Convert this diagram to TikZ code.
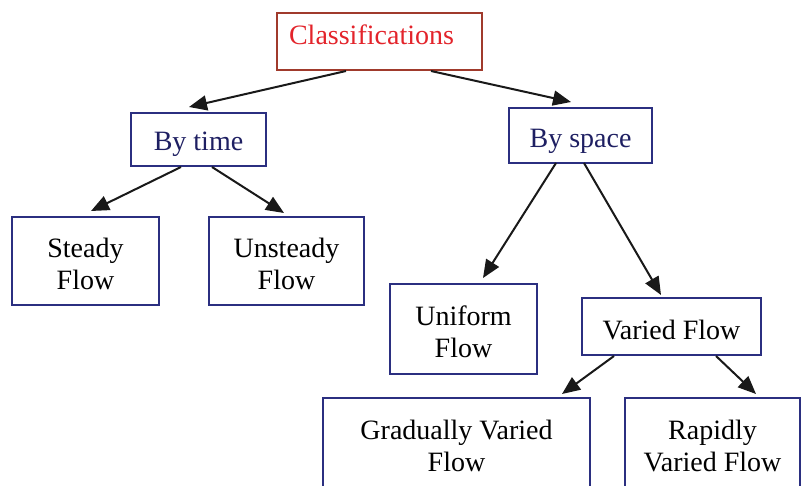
\documentclass[tikz,border=0pt]{standalone}
\usepackage{fontspec}
\setmainfont{Liberation Serif}
\usetikzlibrary{arrows.meta,calc}
\definecolor{navy}{HTML}{2B2F80}
\definecolor{navytext}{HTML}{1E1F62}
\definecolor{redtext}{HTML}{E3242B}
\definecolor{brownline}{HTML}{A03A2C}
\newcommand{\dnbox}[2]{\raisebox{0pt}[\dimexpr\height+#1*2\relax][\depth]{#2}}
\newcommand{\twol}[2]{\begin{tabular}{@{}c@{}}#1\\#2\end{tabular}}
\begin{document}
\begin{tikzpicture}[x=1pt,y=-1pt,
  box/.style={draw=navy,line width=2pt,inner sep=0pt,align=center,
    font=\fontsize{28}{32}\selectfont,fill=white},
  topbox/.style={draw=brownline,line width=2pt,inner sep=0pt,align=center,
    font=\fontsize{28}{32}\selectfont,text=redtext},
  arr/.style={line width=2pt,draw=black!90,-{Triangle[length=18pt,width=15pt]}}]
\clip (0,0) rectangle (803,486);
\fill[white] (0,0) rectangle (803,486);
\node[topbox,minimum width=205,minimum height=57] (cls) at (379.5,41.5) {\raisebox{14pt}{Classifications}\hspace{16pt}};
\node[box,text=navytext,minimum width=135,minimum height=53] (bt) at (198.5,139.5) {\dnbox{5pt}{By time}};
\node[box,text=navytext,minimum width=143,minimum height=55] (bs) at (580.5,135.5) {\dnbox{6pt}{By space}};
\node[box,minimum width=147,minimum height=88] (st) at (85.5,261) {\dnbox{6pt}{\twol{Steady}{Flow}}};
\node[box,minimum width=155,minimum height=88] (us) at (286.5,261) {\dnbox{6pt}{\twol{Unsteady}{Flow}}};
\node[box,minimum width=147,minimum height=90] (un) at (463.5,329) {\dnbox{6pt}{\twol{Uniform}{Flow}}};
\node[box,minimum width=179,minimum height=57] (va) at (671.5,326.5) {\dnbox{3pt}{Varied Flow}};
\node[box,minimum width=267,minimum height=96] (gr) at (456.5,446) {\dnbox{3pt}{\twol{Gradually Varied}{Flow}}};
\node[box,minimum width=175,minimum height=96] (ra) at (712.5,446) {\dnbox{3pt}{\twol{Rapidly}{Varied Flow}}};
\draw[arr] ($(cls.south west)+(70,0)$) -- ($(bt.north west)+(59,-5)$);
\draw[arr] ($(cls.south west)+(155,0)$) -- ($(bs.north west)+(63,-5)$);
\draw[arr] ($(bt.south west)+(51,0)$) -- ($(st.north west)+(80,-5)$);
\draw[arr] ($(bt.south west)+(82,0)$) -- ($(us.north west)+(76,-3)$);
\draw[arr] ($(bs.south west)+(48,-1)$) -- ($(un.north west)+(94,-5)$);
\draw[arr] ($(bs.south west)+(76,-1)$) -- ($(va.north west)+(80,-2)$);
\draw[arr] ($(va.south west)+(33,0)$) -- ($(gr.north west)+(240,-3)$);
\draw[arr] ($(va.south west)+(135,0)$) -- ($(ra.north west)+(132,-3)$);
\end{tikzpicture}
\end{document}
